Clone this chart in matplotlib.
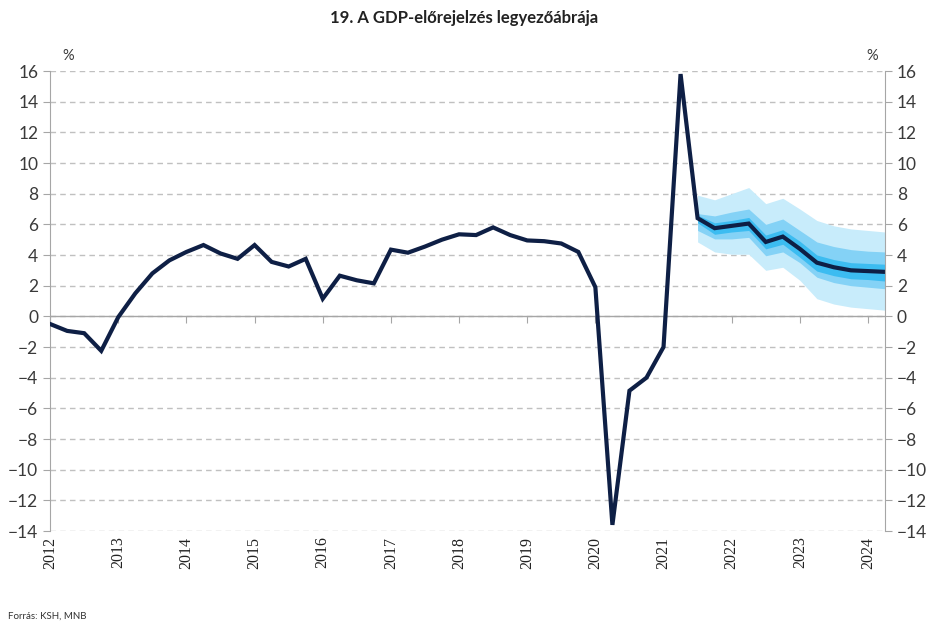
import numpy as np
import matplotlib.pyplot as plt
from matplotlib import transforms

# quarterly GDP growth, 2012Q1 .. 2024Q2 (%)
gdp = [-0.5, -0.95, -1.1, -2.25, -0.05, 1.5, 2.8, 3.65, 4.2, 4.65, 4.1, 3.75,
       4.65, 3.55, 3.25, 3.75, 1.15, 2.65, 2.35, 2.15, 4.35, 4.15, 4.55, 5.0,
       5.35, 5.3, 5.8, 5.3, 4.95, 4.9, 4.75, 4.2, 1.9, -13.6, -4.85, -4.0,
       -2.0, 15.8, 6.4, 5.75, 5.9, 6.05, 4.85, 5.2, 4.4, 3.5, 3.2, 3.0, 2.95, 2.9]

# fan chart bands, 2021Q3 .. 2024Q2
fan_start = 38
outer_hi = [7.9, 7.6, 8.0, 8.4, 7.35, 7.7, 7.0, 6.25, 5.9, 5.7, 5.6, 5.5]
outer_lo = [4.85, 4.2, 4.05, 4.05, 3.0, 3.2, 2.35, 1.15, 0.8, 0.6, 0.5, 0.4]
mid_hi = [6.7, 6.55, 6.8, 7.0, 6.0, 6.35, 5.6, 4.85, 4.55, 4.35, 4.25, 4.2]
mid_lo = [5.6, 5.05, 5.05, 5.15, 3.95, 4.2, 3.5, 2.55, 2.2, 2.0, 1.9, 1.8]
inner_hi = [6.6, 6.1, 6.25, 6.45, 5.3, 5.65, 4.9, 4.0, 3.7, 3.5, 3.45, 3.4]
inner_lo = [6.1, 5.35, 5.5, 5.6, 4.4, 4.7, 3.85, 2.95, 2.65, 2.45, 2.4, 2.3]

years = [str(y) for y in range(2012, 2025)]
yticks = list(range(-14, 17, 2))

x = np.arange(len(gdp))
xf = np.arange(fan_start, fan_start + len(outer_hi))

fig = plt.figure(figsize=(9.28, 6.25), dpi=100)
ax = fig.add_axes([0.054, 0.1504, 0.8997, 0.736])

ax.fill_between(xf, outer_lo, outer_hi, color='#c8ecfb', lw=0, zorder=2)
ax.fill_between(xf, mid_lo, mid_hi, color='#84d2f6', lw=0, zorder=3)
ax.fill_between(xf, inner_lo, inner_hi, color='#3cbcf1', lw=0, zorder=4)
ax.plot(x, gdp, color='#0e1f45', lw=3, solid_joinstyle='miter', zorder=5)

ax.set_xlim(0, 49)
ax.set_ylim(-14, 16)
ax.set_yticks(yticks)
ax.set_axisbelow(True)
ax.yaxis.grid(True, linestyle=(0, (4, 3)), color='#c0c0c0', lw=1)
ax.axhline(0, color='#a6a6a6', lw=1, zorder=1)

for s in ['top', 'right']:
    ax.spines[s].set_visible(False)
ax.spines['left'].set_color('#a6a6a6')
ax.spines['bottom'].set_position(('data', 0))
ax.spines['bottom'].set_visible(False)

ax.set_xticks(np.arange(0, 49, 4))
ax.tick_params(axis='x', labelbottom=False, length=5, color='#a6a6a6', direction='out')
ax.tick_params(axis='y', length=5, color='#a6a6a6', labelsize=12.5, labelcolor='#3a3a3a')
for lb in ax.get_yticklabels():
    lb.set_fontfamily('Lato')

# year labels at bottom
trans = transforms.blended_transform_factory(ax.transData, ax.transAxes)
for i, yr in enumerate(years):
    ax.text(i * 4, -0.012, yr, transform=trans, rotation=90, ha='center', va='top',
            fontsize=11.5, family='Liberation Serif', color='#222222')

ax2 = ax.twinx()
ax2.set_ylim(-14, 16)
ax2.set_yticks(yticks)
for s in ['top', 'left', 'bottom']:
    ax2.spines[s].set_visible(False)
ax2.spines['right'].set_color('#a6a6a6')
ax2.tick_params(axis='y', length=5, color='#a6a6a6', labelsize=12.5, labelcolor='#3a3a3a')
for lb in ax2.get_yticklabels():
    lb.set_fontfamily('Lato')

fig.text(62 / 928, 1 - 56 / 625, '%', fontsize=10.5, family='Lato', color='#3a3a3a', ha='left', va='center')
fig.text(872 / 928, 1 - 56 / 625, '%', fontsize=10.5, family='Lato', color='#3a3a3a', ha='center', va='center')

fig.text(0.5, 1 - 18 / 625, '19. A GDP-előrejelzés legyezőábrája', ha='center', va='center',
         fontsize=12, fontweight='bold', family='Lato', color='#222222')
fig.text(8 / 928, 1 - 616 / 625, 'Forrás: KSH, MNB', ha='left', va='center',
         fontsize=7, family='Lato', color='#333333')

fig.savefig('out.png', dpi=100)
